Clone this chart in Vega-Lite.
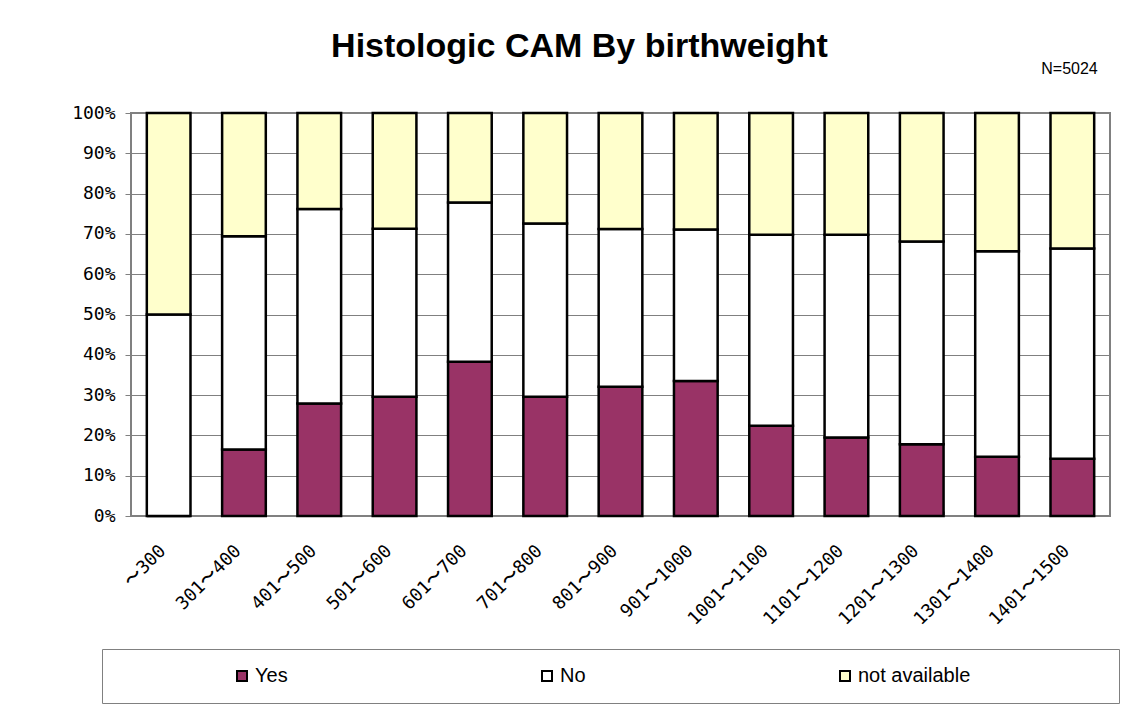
{
  "$schema": "https://vega.github.io/schema/vega-lite/v6.json",
  "width": 979,
  "height": 403,
  "autosize": {"type": "none"},
  "padding": {"left": 131, "top": 113, "right": 26, "bottom": 203},
  "background": "white",
  "title": {
    "text": "Histologic CAM By birthweight",
    "font": "Liberation Sans",
    "fontSize": 34,
    "fontWeight": "bold",
    "color": "black",
    "anchor": "middle",
    "dx": -41,
    "offset": -31,
    "baseline": "alphabetic"
  },
  "data": {
    "values": [
      {"bw": "〜300", "status": "Yes", "pct": 0},
      {"bw": "〜300", "status": "No", "pct": 50},
      {"bw": "〜300", "status": "not available", "pct": 50},
      {"bw": "301〜400", "status": "Yes", "pct": 16.5},
      {"bw": "301〜400", "status": "No", "pct": 52.9},
      {"bw": "301〜400", "status": "not available", "pct": 30.6},
      {"bw": "401〜500", "status": "Yes", "pct": 27.9},
      {"bw": "401〜500", "status": "No", "pct": 48.3},
      {"bw": "401〜500", "status": "not available", "pct": 23.8},
      {"bw": "501〜600", "status": "Yes", "pct": 29.6},
      {"bw": "501〜600", "status": "No", "pct": 41.7},
      {"bw": "501〜600", "status": "not available", "pct": 28.7},
      {"bw": "601〜700", "status": "Yes", "pct": 38.3},
      {"bw": "601〜700", "status": "No", "pct": 39.5},
      {"bw": "601〜700", "status": "not available", "pct": 22.2},
      {"bw": "701〜800", "status": "Yes", "pct": 29.6},
      {"bw": "701〜800", "status": "No", "pct": 43.0},
      {"bw": "701〜800", "status": "not available", "pct": 27.4},
      {"bw": "801〜900", "status": "Yes", "pct": 32.1},
      {"bw": "801〜900", "status": "No", "pct": 39.1},
      {"bw": "801〜900", "status": "not available", "pct": 28.8},
      {"bw": "901〜1000", "status": "Yes", "pct": 33.5},
      {"bw": "901〜1000", "status": "No", "pct": 37.6},
      {"bw": "901〜1000", "status": "not available", "pct": 28.9},
      {"bw": "1001〜1100", "status": "Yes", "pct": 22.4},
      {"bw": "1001〜1100", "status": "No", "pct": 47.4},
      {"bw": "1001〜1100", "status": "not available", "pct": 30.2},
      {"bw": "1101〜1200", "status": "Yes", "pct": 19.5},
      {"bw": "1101〜1200", "status": "No", "pct": 50.3},
      {"bw": "1101〜1200", "status": "not available", "pct": 30.2},
      {"bw": "1201〜1300", "status": "Yes", "pct": 17.8},
      {"bw": "1201〜1300", "status": "No", "pct": 50.3},
      {"bw": "1201〜1300", "status": "not available", "pct": 31.9},
      {"bw": "1301〜1400", "status": "Yes", "pct": 14.7},
      {"bw": "1301〜1400", "status": "No", "pct": 51.0},
      {"bw": "1301〜1400", "status": "not available", "pct": 34.3},
      {"bw": "1401〜1500", "status": "Yes", "pct": 14.2},
      {"bw": "1401〜1500", "status": "No", "pct": 52.2},
      {"bw": "1401〜1500", "status": "not available", "pct": 33.6}
    ]
  },
  "transform": [
    {"calculate": "indexof(['Yes','No','not available'], datum.status)", "as": "stackOrder"}
  ],
  "mark": {"type": "bar", "stroke": "black", "strokeWidth": 2.5},
  "encoding": {
    "x": {
      "field": "bw",
      "type": "nominal",
      "sort": null,
      "scale": {"paddingInner": 0.42, "paddingOuter": 0.21},
      "axis": {
        "title": null,
        "labelAngle": -45,
        "labelAlign": "right",
        "labelBaseline": "middle",
        "labelFont": "DejaVu Sans Mono",
        "labelFontSize": 18,
        "labelColor": "black",
        "labelPadding": 37,
        "labelOffset": -6,
        "domain": false,
        "ticks": true,
        "tickBand": "extent",
        "tickSize": -5,
        "tickColor": "#808080",
        "grid": false
      }
    },
    "y": {
      "field": "pct",
      "type": "quantitative",
      "stack": "zero",
      "scale": {"domain": [0, 100], "nice": false},
      "axis": {
        "title": "N=5024",
        "titleAngle": 0,
        "titleFont": "Liberation Sans",
        "titleFontSize": 16,
        "titleFontWeight": "normal",
        "titleColor": "black",
        "titleAlign": "center",
        "titleBaseline": "middle",
        "titleX": 938,
        "titleY": -45,
        "values": [0, 10, 20, 30, 40, 50, 60, 70, 80, 90, 100],
        "labelExpr": "datum.value + '%'",
        "labelFont": "DejaVu Sans Mono",
        "labelFontSize": 18,
        "labelColor": "black",
        "labelPadding": 10,
        "domain": false,
        "ticks": true,
        "tickSize": 6,
        "tickColor": "#808080",
        "grid": true,
        "gridColor": "#808080",
        "gridWidth": 1
      }
    },
    "color": {
      "field": "status",
      "type": "nominal",
      "sort": ["Yes", "No", "not available"],
      "scale": {"domain": ["Yes", "No", "not available"], "range": ["#993366", "#FFFFFF", "#FFFFCC"]},
      "legend": {
        "orient": "none",
        "legendX": -29,
        "legendY": 536,
        "direction": "horizontal",
        "columns": 3,
        "title": " ",
        "titleOrient": "right",
        "titlePadding": 132,
        "titleFontSize": 18,
        "padding": 17,
        "strokeColor": "#808080",
        "fillColor": "white",
        "symbolType": "square",
        "symbolSize": 100,
        "symbolStrokeColor": "black",
        "symbolStrokeWidth": 2,
        "symbolOpacity": 1,
        "symbolFillOpacity": 1,
        "symbolOffset": 113,
        "labelFont": "Liberation Sans",
        "labelFontSize": 20,
        "labelColor": "black",
        "labelOffset": 3,
        "columnPadding": 136
      }
    },
    "order": {"field": "stackOrder", "type": "quantitative"}
  },
  "config": {
    "view": {"stroke": "#808080", "strokeWidth": 2}
  }
}
